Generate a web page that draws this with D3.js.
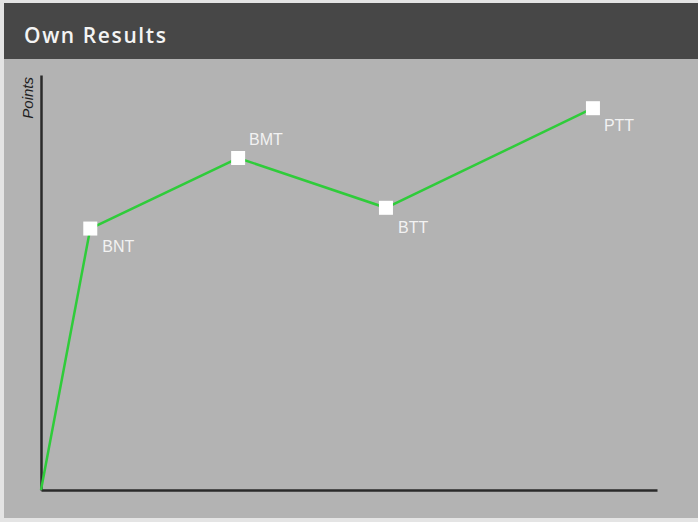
<!DOCTYPE html>
<html>
<head>
<meta charset="utf-8">
<script src="https://cdn.jsdelivr.net/npm/d3@7"></script>
<style>
  html, body { margin: 0; padding: 0; background: #e4e4e4; }
  svg { display: block; }
</style>
</head>
<body>
<svg id="chart" width="698" height="522"></svg>
<script>
// Test stages and the points reached at each
const stages = ["", "BNT", "BMT", "BTT", "PTT"];
const stageX = [0, 1, 4, 7, 11.2];
const points = [0, 63, 80, 68, 92];
const showMarker = [false, true, true, true, true];

const svg = d3.select("#chart");
const W = 698, H = 522;

// Panel background and header
svg.append("rect").attr("x", 4).attr("y", 3).attr("width", W - 4).attr("height", 515).attr("fill", "#b3b3b3");
svg.append("rect").attr("x", 4).attr("y", 3).attr("width", W - 4).attr("height", 56).attr("fill", "#474747");
svg.append("text")
  .attr("x", 24).attr("y", 43)
  .attr("fill", "#f4f4f4")
  .attr("font-family", "'Open Sans', 'Noto Sans', sans-serif")
  .attr("font-weight", 600)
  .attr("font-size", 21)
  .attr("letter-spacing", 1.6)
  .text("Own Results");

const origin = { x: 41, y: 490 };
const x = d3.scaleLinear().domain([0, 12.5]).range([origin.x, 657]);
const y = d3.scaleLinear().domain([0, 100]).range([origin.y, 75]);

// Axes drawn as bare lines (no ticks)
const xAxis = d3.axisBottom(x).tickValues([]).tickSizeOuter(0);
const yAxis = d3.axisLeft(y).tickValues([]).tickSizeOuter(0);
svg.append("g").attr("transform", `translate(0,${origin.y})`).call(xAxis)
  .select(".domain").attr("stroke", "#2a2a2a").attr("stroke-width", 2.5);
svg.append("g").attr("transform", `translate(${origin.x},0)`).call(yAxis)
  .select(".domain").attr("stroke", "#2a2a2a").attr("stroke-width", 2.5);

svg.append("text")
  .attr("transform", `translate(33,${y(100) + 2}) rotate(-90)`)
  .attr("text-anchor", "end")
  .attr("font-family", "'Liberation Sans', Arial, sans-serif")
  .attr("font-style", "italic")
  .attr("font-size", 15)
  .attr("fill", "#1e1e1e")
  .text("Points");

const data = stages.map((s, i) => ({ name: s, xv: stageX[i], v: points[i], marker: showMarker[i] }));

const line = d3.line().x(d => x(d.xv)).y(d => y(d.v));
svg.append("path")
  .datum(data)
  .attr("d", line)
  .attr("fill", "none")
  .attr("stroke", "#2fcc3a")
  .attr("stroke-width", 2.5);

const m = data.filter(d => d.marker);
const size = 14;
svg.selectAll("rect.marker").data(m).join("rect")
  .attr("class", "marker")
  .attr("x", d => x(d.xv) - size / 2)
  .attr("y", d => y(d.v) - size / 2)
  .attr("width", size).attr("height", size)
  .attr("fill", "#ffffff");

// Label offsets: most sit below-right of the marker, BMT sits above-right
const labelOffset = { BNT: [12, 23], BMT: [11, -13], BTT: [12, 25], PTT: [11, 23] };
svg.selectAll("text.lbl").data(m).join("text")
  .attr("class", "lbl")
  .attr("x", d => x(d.xv) + labelOffset[d.name][0])
  .attr("y", d => y(d.v) + labelOffset[d.name][1])
  .attr("font-family", "'Liberation Sans', Arial, sans-serif")
  .attr("font-size", 16)
  .attr("fill", "#f2f2f2")
  .text(d => d.name);
</script>
</body>
</html>
